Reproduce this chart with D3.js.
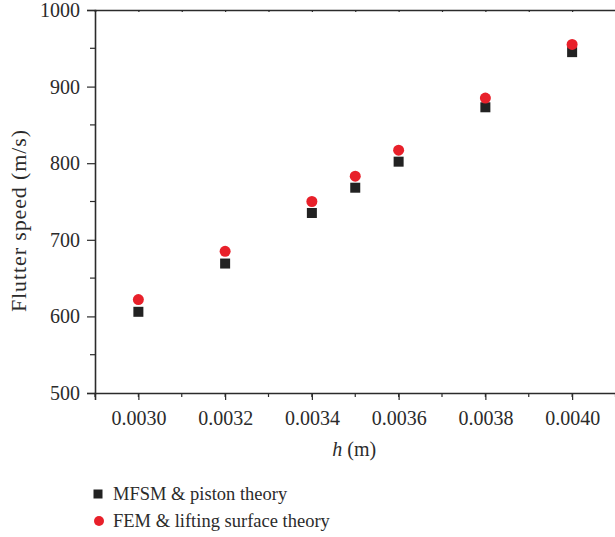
<!DOCTYPE html>
<html>
<head>
<meta charset="utf-8">
<script src="https://cdn.jsdelivr.net/npm/d3@7"></script>
<style>
  body { margin: 0; background: #fff; }
  svg { display: block; }
</style>
</head>
<body>
<div id="chart"></div>
<script>
// thickness values (m)
const hValues = [0.0030, 0.0032, 0.0034, 0.0035, 0.0036, 0.0038, 0.0040];
// flutter speeds (m/s)
const mfsmSpeed = [606, 669, 735, 768, 802, 873, 945];
const femSpeed = [622, 685, 750, 783, 817, 885, 955];

const xTicks = [0.0030, 0.0032, 0.0034, 0.0036, 0.0038, 0.0040];
const yTicks = [500, 600, 700, 800, 900, 1000];

const seriesNames = ["MFSM & piston theory", "FEM & lifting surface theory"];

const width = 615;
const height = 537;
const margin = { top: 10, right: 0, bottom: 144, left: 95 };
const serif = "Liberation Serif";
const ink = "#2b2b2b";

const x = d3.scaleLinear().domain([0.0029, 0.0041]).range([margin.left, 615 + 0.5]);
const y = d3.scaleLinear().domain([500, 1000]).range([height - margin.bottom, margin.top]);

const svg = d3.select("#chart").append("svg")
    .attr("width", width)
    .attr("height", height)
    .style("font-family", serif);

// minor ticks
const xMinor = d3.range(0.0029, 0.00411, 0.0001);
const yMinor = d3.range(550, 1000, 100);

// bottom axis
const xAxis = svg.append("g")
    .attr("transform", `translate(0,${y(500)})`)
    .call(d3.axisBottom(x).tickValues(xTicks).tickFormat(d3.format(".4f")).tickSize(7).tickPadding(11));
xAxis.selectAll(".minor").data(xMinor).join("line")
    .attr("class", "minor")
    .attr("x1", d => x(d)).attr("x2", d => x(d))
    .attr("y1", 0).attr("y2", 4);

// left axis
const yAxis = svg.append("g")
    .attr("transform", `translate(${margin.left},0)`)
    .call(d3.axisLeft(y).tickValues(yTicks).tickFormat(d3.format("d")).tickSize(8).tickPadding(7));
yAxis.selectAll(".minor").data(yMinor).join("line")
    .attr("class", "minor")
    .attr("x1", 0).attr("x2", -5)
    .attr("y1", d => y(d)).attr("y2", d => y(d));

// top frame line
svg.append("g")
    .attr("transform", `translate(0,${y(1000)})`)
    .call(d3.axisTop(x).tickValues(xMinor).tickSize(-2).tickFormat(""));

svg.selectAll("g").attr("font-family", serif);
svg.selectAll(".domain").attr("stroke", ink).attr("stroke-width", 1.6);
svg.selectAll(".tick line, line.minor").attr("stroke", ink).attr("stroke-width", 1.2);
svg.selectAll(".tick text")
    .attr("font-size", 20)
    .attr("fill", ink)
    .style("font-family", serif);

// axis titles
svg.append("text")
    .attr("x", x(0.0035) - 1)
    .attr("y", 456)
    .attr("text-anchor", "middle")
    .attr("font-size", 20)
    .style("font-family", serif)
    .attr("fill", ink)
    .html('<tspan font-style="italic">h</tspan> (m)');

svg.append("text")
    .attr("transform", `translate(26,221) rotate(-90)`)
    .attr("text-anchor", "middle")
    .attr("font-size", 22)
    .style("font-family", serif)
    .attr("textLength", 182)
    .attr("fill", ink)
    .text("Flutter speed (m/s)");

// markers
svg.append("g").selectAll("rect")
    .data(hValues.map((h, i) => [h, mfsmSpeed[i]]))
    .join("rect")
    .attr("x", d => x(d[0]) - 5)
    .attr("y", d => y(d[1]) - 5)
    .attr("width", 10)
    .attr("height", 10)
    .attr("fill", "#222");

svg.append("g").selectAll("circle")
    .data(hValues.map((h, i) => [h, femSpeed[i]]))
    .join("circle")
    .attr("cx", d => x(d[0]))
    .attr("cy", d => y(d[1]))
    .attr("r", 5.5)
    .attr("fill", "#e8202a");

// legend
const legend = svg.append("g").attr("transform", "translate(98,494)");
legend.append("rect").attr("x", -4.5).attr("y", -4.5).attr("width", 9).attr("height", 9).attr("fill", "#222");
legend.append("circle").attr("cx", 1).attr("cy", 27).attr("r", 5).attr("fill", "#e8202a");
legend.selectAll("text").data(seriesNames).join("text")
    .attr("x", 15)
    .attr("y", (d, i) => i * 27 + 6)
    .attr("font-size", 18.5)
    .style("font-family", serif)
    .attr("fill", ink)
    .text(d => d);
</script>
</body>
</html>
